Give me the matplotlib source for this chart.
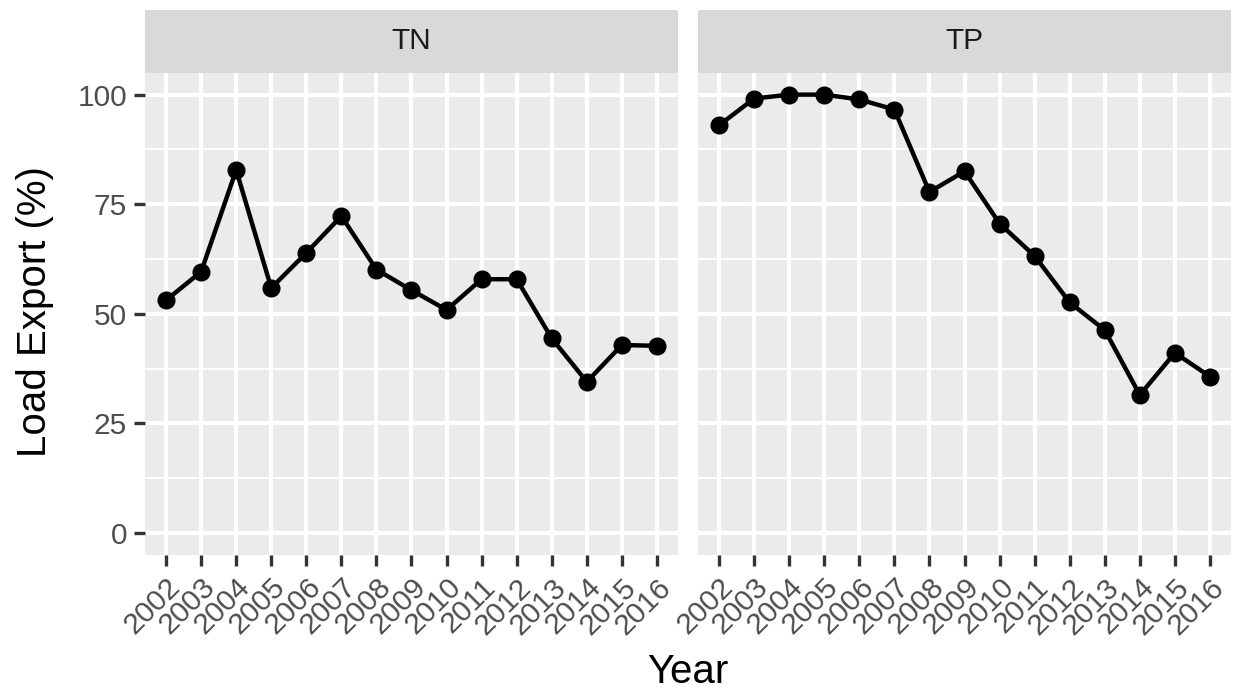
import matplotlib
matplotlib.use('Agg')
import matplotlib.pyplot as plt
import matplotlib.transforms as mtransforms
import numpy as np

years = [str(y) for y in range(2002, 2017)]
tn_values = [53.1, 59.6, 82.8, 55.9, 63.9, 72.3, 60.1, 55.4, 50.9, 57.9, 57.9, 44.4, 34.5, 42.9, 42.7]
tp_values = [93.0, 99.1, 100.0, 100.0, 98.9, 96.6, 77.8, 82.5, 70.6, 63.2, 52.6, 46.3, 31.5, 41.1, 35.7]
facets = ["TN", "TP"]
y_ticks = [0, 25, 50, 75, 100]
y_minor = [12.5, 37.5, 62.5, 87.5]

plt.rcParams['font.family'] = ['Liberation Sans', 'DejaVu Sans']

W, H = 1234, 697
fig = plt.figure(figsize=(W / 100, H / 100), dpi=100)
fig.patch.set_facecolor('white')

panel_x = [(145, 678), (698, 1231)]
panel_top, panel_bot = 72.7, 555
strip_top = 10

x = np.arange(len(years))
for i, (name, vals) in enumerate(zip(facets, [tn_values, tp_values])):
    x0, x1 = panel_x[i]
    ax = fig.add_axes([x0 / W, 1 - panel_bot / H, (x1 - x0) / W, (panel_bot - panel_top) / H])
    ax.set_facecolor('#EBEBEB')
    for s in ax.spines.values():
        s.set_visible(False)
    for yv in y_minor:
        ax.axhline(yv, color='white', lw=1.5, zorder=1)
    for yv in y_ticks:
        ax.axhline(yv, color='white', lw=3, zorder=1)
    for xv in x:
        ax.axvline(xv, color='white', lw=3, zorder=1)
    ax.plot(x, vals, color='black', lw=3.2, zorder=3)
    ax.plot(x, vals, 'o', color='black', ms=12, zorder=4)
    ax.set_xlim(-0.6, len(years) - 0.4)
    ax.set_ylim(-5, 105)
    ax.set_xticks(x)
    ax.set_xticklabels(years, rotation=45, ha='right', va='top', rotation_mode='anchor',
                       fontsize=21.5, color='#4D4D4D')
    offset = mtransforms.ScaledTranslation(9 / 100, -1 / 100, fig.dpi_scale_trans)
    for lbl in ax.get_xticklabels():
        lbl.set_transform(lbl.get_transform() + offset)
    ax.set_yticks(y_ticks)
    ax.tick_params(axis='both', color='#333333', width=2.4, length=8, pad=5)
    if i == 0:
        ax.set_yticklabels([str(v) for v in y_ticks], fontsize=21.5, color='#4D4D4D')
    else:
        ax.set_yticklabels([])
        ax.tick_params(axis='y', length=0)

    sax = fig.add_axes([x0 / W, 1 - panel_top / H, (x1 - x0) / W, (panel_top - strip_top) / H])
    sax.set_facecolor('#D9D9D9')
    sax.set_xticks([])
    sax.set_yticks([])
    for s in sax.spines.values():
        s.set_visible(False)
    sax.text(0.5, 0.5, name, ha='center', va='center', fontsize=21.5, color='#1A1A1A',
             transform=sax.transAxes)

fig.text(688 / W, 1 - 672 / H, 'Year', ha='center', va='center', fontsize=29, color='black')
fig.text(35 / W, 1 - 312 / H, 'Load Export (%)', ha='center', va='center', rotation=90,
         fontsize=29, color='black')

fig.savefig('out.png', dpi=100)
